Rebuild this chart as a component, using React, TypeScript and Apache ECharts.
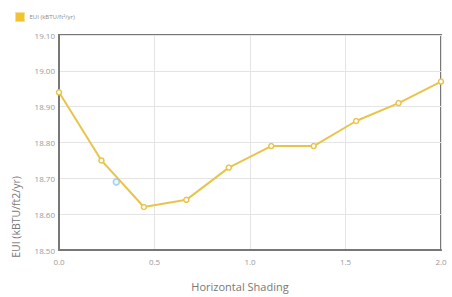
import React, { useEffect, useRef } from "react";
import * as echarts from "echarts";

const xValues = [0, 0.2222, 0.4444, 0.6667, 0.8889, 1.1111, 1.3333, 1.5556, 1.7778, 2.0];
const euiValues = [18.94, 18.75, 18.62, 18.64, 18.73, 18.79, 18.79, 18.86, 18.91, 18.97];
const highlightPoint = [0.3, 18.69];
const seriesName = "EUI (kBTU/ft²/yr)";
const xAxisName = "Horizontal Shading";
const yAxisName = "EUI (kBTU/ft2/yr)";

export default function App() {
  const ref = useRef<HTMLDivElement>(null);
  useEffect(() => {
    if (!ref.current) return;
    const chart = echarts.init(ref.current, null, { renderer: "svg" });
    const font = "Open Sans";
    chart.setOption({
      animation: false,
      backgroundColor: "#ffffff",
      textStyle: { fontFamily: font },
      legend: {
        show: true,
        left: 10,
        top: 7,
        itemWidth: 9,
        itemHeight: 9,
        itemGap: 4,
        icon: "rect",
        textStyle: { fontSize: 6, color: "#888", fontFamily: font },
        data: [
          {
            name: seriesName,
            icon: "rect",
            itemStyle: { color: "#f2c230", borderColor: "#f7df90", borderWidth: 1 },
          },
        ],
      },
      graphic: [
        {
          type: "text",
          x: 16,
          y: 217,
          rotation: Math.PI / 2,
          style: {
            text: yAxisName,
            fontSize: 10.5,
            fontFamily: font,
            fill: "#777",
            align: "center",
            verticalAlign: "middle",
          },
        },
      ],
      grid: {
        left: 59,
        right: 11,
        top: 35,
        bottom: 46,
        show: true,
        borderColor: "#777",
        borderWidth: 2,
        containLabel: false,
      },
      xAxis: {
        type: "value",
        min: 0,
        max: 2,
        interval: 0.5,
        name: xAxisName,
        nameLocation: "middle",
        nameGap: 31,
        nameTextStyle: { fontSize: 11, color: "#777", fontFamily: font, padding: [0, 20, 0, 0] },
        axisLine: { show: true, lineStyle: { color: "#777", width: 2 } },
        axisTick: { show: false },
        axisLabel: {
          fontSize: 8,
          color: "#999",
          margin: 7,
          formatter: (v: number) => v.toFixed(1),
        },
        splitLine: { show: true, lineStyle: { color: "#e4e4e4", width: 1 } },
      },
      yAxis: {
        type: "value",
        min: 18.5,
        max: 19.1,
        interval: 0.1,
        axisLine: { show: true, lineStyle: { color: "#777", width: 2 } },
        axisTick: { show: false },
        axisLabel: {
          fontSize: 8,
          color: "#999",
          margin: 4,
          formatter: (v: number) => v.toFixed(2),
        },
        splitLine: { show: true, lineStyle: { color: "#e4e4e4", width: 1 } },
      },
      series: [
        {
          name: seriesName,
          type: "line",
          data: xValues.map((x, i) => [x, euiValues[i]]),
          symbol: "circle",
          symbolSize: 5,
          itemStyle: { color: "#fff", borderColor: "#e8c44a", borderWidth: 1.5 },
          lineStyle: { color: "#e8c44a", width: 2 },
        },
        {
          name: "highlight",
          type: "scatter",
          data: [highlightPoint],
          symbol: "circle",
          symbolSize: 6,
          itemStyle: { color: "#e6f3fc", borderColor: "#8cc8ee", borderWidth: 1.5 },
          z: 5,
        },
      ],
    });
    return () => chart.dispose();
  }, []);
  return (
    <div
      ref={ref}
      style={{ position: "absolute", left: 0, top: 0, width: 452, height: 297 }}
    />
  );
}
